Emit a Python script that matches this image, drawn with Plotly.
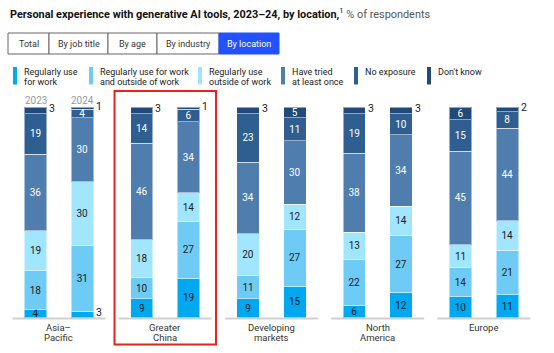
import plotly.graph_objects as go

# ---------------- data ----------------
locations = ["Asia–<br>Pacific", "Greater<br>China", "Developing<br>markets", "North<br>America", "Europe"]
years = ["2023", "2024"]
series_names = ["Regularly use for work", "Regularly use for work and outside of work",
                "Regularly use outside of work", "Have tried at least once", "No exposure", "Don't know"]
legend_labels = ["Regularly use<br>for work", "Regularly use for work<br>and outside of work",
                 "Regularly use<br>outside of work", "Have tried<br>at least once", "No exposure", "Don't know"]
# order of bars: loc0-2023, loc0-2024, loc1-2023, ...
reg_work =        [4, 3, 9, 19, 9, 15, 6, 12, 10, 11]
reg_work_out =    [18, 31, 10, 27, 11, 27, 22, 27, 14, 21]
reg_out =         [19, 30, 18, 14, 20, 12, 13, 14, 11, 14]
tried =           [36, 30, 46, 34, 34, 30, 38, 34, 45, 44]
no_exposure =     [19, 4, 14, 6, 23, 11, 19, 10, 15, 8]
dont_know =       [3, 1, 3, 1, 3, 5, 3, 3, 6, 2]
series = [reg_work, reg_work_out, reg_out, tried, no_exposure, dont_know]
tabs = ["Total", "By job title", "By age", "By industry", "By location"]

# ---------------- styling ----------------
colors = ["#00A8EF", "#6DCBF5", "#A2E5FF", "#4F7DAE", "#2F5E90", "#224A78"]
text_colors = ["#1a1a1a", "#1a1a1a", "#1a1a1a", "#ffffff", "#ffffff", "#ffffff"]
FONT = "Roboto, Liberation Sans, Arial, sans-serif"
W, H = 554, 353
BASE, TOP = 317.7, 107.3


def Y(p):  # pixel row -> data y
    return (BASE - p) / (BASE - TOP) * 100


xs = [35.5 + 106.25 * g + 46.8 * j for g in range(len(locations)) for j in range(len(years))]
bw = 22.4
totals = [sum(s[i] for s in series) for i in range(len(xs))]
MIN_INSIDE = 4

fig = go.Figure()
for k, (name, vals) in enumerate(zip(series_names, series)):
    fig.add_trace(go.Bar(
        x=xs, y=vals, width=bw, name=name,
        marker=dict(color=colors[k], line=dict(color="rgba(255,255,255,0.5)", width=1)),
        text=[str(v) if v >= MIN_INSIDE else " " for v in vals],
        textposition="inside", insidetextanchor="middle", textangle=0,
        textfont=dict(color=text_colors[k], size=10, family=FONT),
        showlegend=False, hoverinfo="skip",
    ))

shapes = []
ann = []

# outside labels for small values
for i, x in enumerate(xs):
    cum = 0
    for k, vals in enumerate(series):
        v = vals[i]
        mid = (cum + v / 2) / totals[i] * 100
        cum += v
        if v < MIN_INSIDE:
            ann.append(dict(x=x + bw / 2 + 0.3, y=mid + 0.8, text=str(v), showarrow=False,
                            xanchor="left", yanchor="middle",
                            font=dict(size=10.5, color="#1a1a1a", family=FONT)))

# baselines and category labels (each line placed separately for tight leading)
for g, loc in enumerate(locations):
    cx = (xs[2 * g] + xs[2 * g + 1]) / 2
    shapes.append(dict(type="line", x0=cx - 46.5, x1=cx + 46.5, y0=Y(318.6), y1=Y(318.6),
                       line=dict(color="#d0d0d0", width=2), layer="below"))
    for li, line in enumerate(loc.split("<br>")):
        ann.append(dict(x=cx, y=Y(327.5 + 10 * li), text=line, showarrow=False,
                        xanchor="center", yanchor="middle",
                        font=dict(size=9.5, color="#333", family=FONT)))

# year labels above first group
for j, yr in enumerate(years):
    ann.append(dict(x=xs[j], y=Y(100.5), text=yr, showarrow=False, xanchor="center", yanchor="middle",
                    font=dict(size=10, color="#9a9a9a", family=FONT)))

# title
ann.append(dict(x=8, y=Y(13), xanchor="left", yanchor="middle", showarrow=False,
                text="<b>Personal experience with generative AI tools, 2023–24, by location,</b>"
                     "<sup>1</sup> <span style='color:#555'>% of respondents</span>",
                font=dict(size=10.9, color="#111", family=FONT)))

# tabs
edges = [8, 49, 108, 157, 219, 279]
for t, lab in enumerate(tabs):
    active = t == len(tabs) - 1
    shapes.append(dict(type="rect", x0=edges[t], x1=edges[t + 1], y0=Y(54), y1=Y(33),
                       line=dict(color="#2251FF" if active else "#666", width=1),
                       fillcolor="#2251FF" if active else "white"))
    ann.append(dict(x=(edges[t] + edges[t + 1]) / 2, y=Y(44), text=lab, showarrow=False,
                    xanchor="center", yanchor="middle",
                    font=dict(size=9, color="white" if active else "#333", family=FONT)))

# legend
sw_x = [13, 89, 198, 281, 354, 427]
for k, lab in enumerate(legend_labels):
    shapes.append(dict(type="rect", x0=sw_x[k], x1=sw_x[k] + 4, y0=Y(84.5), y1=Y(67),
                       line=dict(width=0), fillcolor=colors[k]))
    for li, line in enumerate(lab.split("<br>")):
        ann.append(dict(x=sw_x[k] + 8.5, y=Y(72.3 + 9.4 * li), text=line, showarrow=False,
                        xanchor="left", yanchor="middle",
                        font=dict(size=9, color="#222", family=FONT)))

# highlight box
shapes.append(dict(type="rect", x0=114.5, x1=216, y0=Y(344.5), y1=Y(91),
                   line=dict(color="#E8231F", width=2), fillcolor="rgba(0,0,0,0)"))

fig.update_layout(
    width=W, height=H, margin=dict(l=0, r=0, t=0, b=0),
    paper_bgcolor="white", plot_bgcolor="white",
    barmode="stack", barnorm="percent",
    xaxis=dict(range=[0, W], visible=False, fixedrange=True),
    yaxis=dict(range=[Y(H), Y(0)], visible=False, fixedrange=True),
    shapes=shapes, annotations=ann,
    uniformtext=dict(minsize=10, mode="show"),
    font=dict(family=FONT),
)
fig.write_html("out.html")
